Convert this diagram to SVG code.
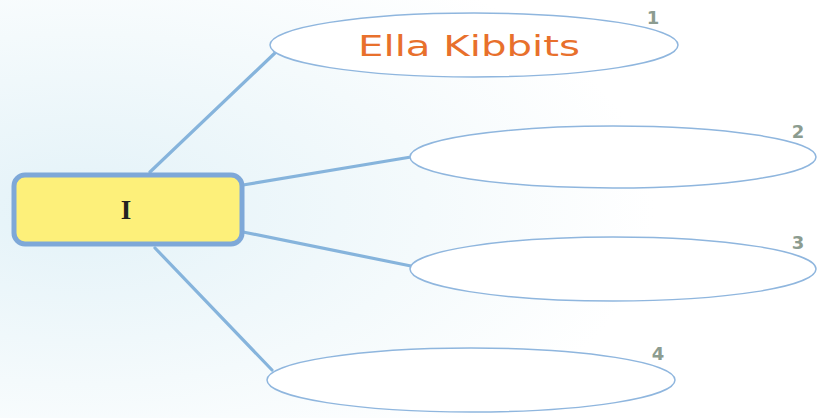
<svg xmlns="http://www.w3.org/2000/svg" width="817" height="418" viewBox="0 0 817 418">
<defs>
<radialGradient id="bg" cx="0.1" cy="0.5" r="0.7">
<stop offset="0" stop-color="#e3f2f8"/>
<stop offset="0.6" stop-color="#f4fafc"/>
<stop offset="1" stop-color="#ffffff"/>
</radialGradient>
</defs>
<style>
.conn{stroke:#86b4dc;stroke-width:3.2;fill:none;stroke-linecap:round}
.oval{fill:#ffffff;stroke:#8fb6de;stroke-width:1.5}
.num{font-family:"DejaVu Sans",sans-serif;font-weight:bold;font-size:18px;fill:#8c9c90}
</style>
<rect width="817" height="418" fill="url(#bg)"/>
<g id="connectors">
<line class="conn" x1="150" y1="172" x2="276" y2="52"/>
<line class="conn" x1="243" y1="185" x2="411" y2="157"/>
<line class="conn" x1="243" y1="232" x2="411" y2="266"/>
<line class="conn" x1="155" y1="248" x2="272" y2="370"/>
</g>
<g id="center">
<rect x="14" y="175" width="228" height="69" rx="11" fill="#fdf07a" stroke="#7ea8d8" stroke-width="5"/>
<text x="126" y="219" font-family="Liberation Serif, serif" font-size="27" font-weight="bold" fill="#222" text-anchor="middle">I</text>
</g>
<g id="node1">
<ellipse class="oval" cx="474" cy="45" rx="204" ry="32"/>
<text x="469" y="56" font-family="DejaVu Sans, sans-serif" font-size="29" fill="#e8702c" text-anchor="middle" textLength="222" lengthAdjust="spacingAndGlyphs">Ella Kibbits</text>
<text class="num" x="653" y="24" text-anchor="middle">1</text>
</g>
<g id="node2">
<ellipse class="oval" cx="613" cy="157" rx="203" ry="31"/>
<text class="num" x="798" y="138" text-anchor="middle">2</text>
</g>
<g id="node3">
<ellipse class="oval" cx="613" cy="269" rx="203" ry="32"/>
<text class="num" x="798" y="249" text-anchor="middle">3</text>
</g>
<g id="node4">
<ellipse class="oval" cx="471" cy="380" rx="204" ry="32"/>
<text class="num" x="658" y="360" text-anchor="middle">4</text>
</g>
</svg>
